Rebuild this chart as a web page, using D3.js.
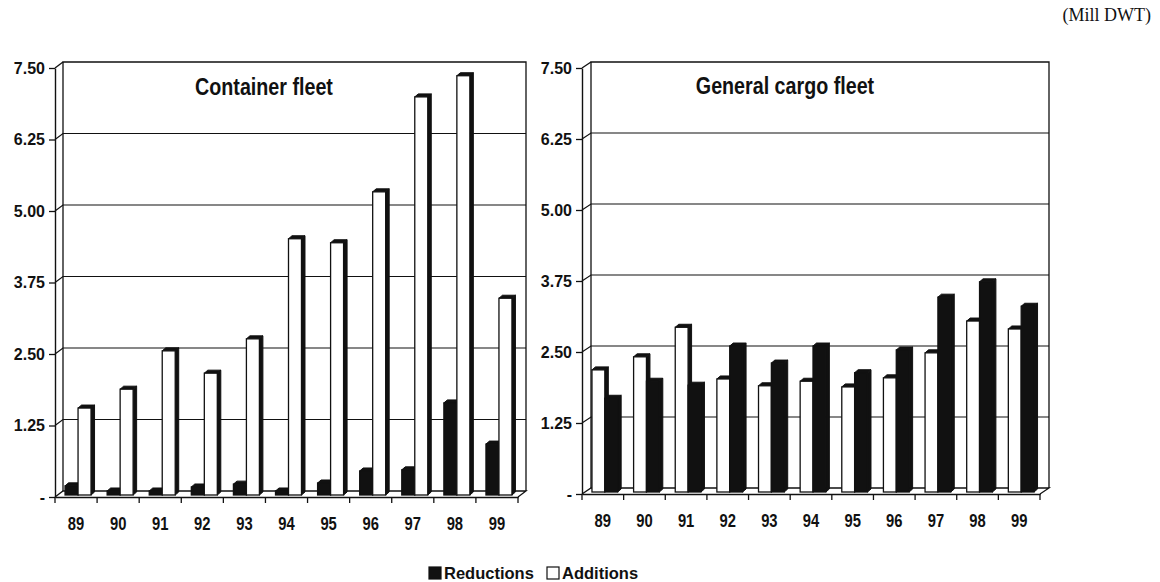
<!DOCTYPE html>
<html>
<head>
<meta charset="utf-8">
<script src="https://cdn.jsdelivr.net/npm/d3@7"></script>
<style>
  html, body { margin: 0; padding: 0; background: #fff; }
  svg { display: block; }
  .narrow { font-family: "Liberation Sans", Arial, sans-serif; font-weight: bold; }
  .wide { font-family: "Liberation Sans", Arial, sans-serif; font-weight: bold; }
</style>
</head>
<body>
<script>
// Fleet additions and reductions, million DWT, 1989-1999
const years = ["89", "90", "91", "92", "93", "94", "95", "96", "97", "98", "99"];
const containerReductions = [0.16, 0.07, 0.07, 0.14, 0.19, 0.07, 0.21, 0.42, 0.44, 1.61, 0.89];
const containerAdditions  = [1.52, 1.85, 2.52, 2.13, 2.73, 4.48, 4.41, 5.30, 6.96, 7.33, 3.44];
const generalAdditions    = [2.15, 2.38, 2.90, 1.99, 1.87, 1.95, 1.85, 2.01, 2.45, 3.01, 2.87];
const generalReductions   = [1.65, 1.95, 1.88, 2.57, 2.27, 2.57, 2.10, 2.50, 3.43, 3.70, 3.27];
const yTicks = [0, 1.25, 2.5, 3.75, 5, 6.25, 7.5];
const yTickLabels = ["-", "1.25", "2.50", "3.75", "5.00", "6.25", "7.50"];
const legendNames = ["Reductions", "Additions"];

const W = 1160, H = 582;
const INK = "#111";
const CONDENSE = 0.82;   // horizontal squeeze for the condensed face

const svg = d3.select("body").append("svg")
  .attr("width", W).attr("height", H)
  .attr("viewBox", `0 0 ${W} ${H}`);

// Squeeze a text horizontally to imitate a narrow typeface
function condense(sel) {
  sel.each(function () {
    const len = this.getComputedTextLength();
    d3.select(this).attr("textLength", len * CONDENSE).attr("lengthAdjust", "spacingAndGlyphs");
  });
}

const panels = [
  {
    title: "Container fleet", titleX: 264, titleY: 95,
    x0: 55, x1: 518, y0: 497, yTop: 68, dx: 8, dy: -6,
    series: [
      { name: "Reductions", values: containerReductions, fill: INK },
      { name: "Additions", values: containerAdditions, fill: "#fff" }
    ]
  },
  {
    title: "General cargo fleet", titleX: 785, titleY: 94,
    x0: 582, x1: 1040, y0: 494, yTop: 68, dx: 9, dy: -6,
    series: [
      { name: "Additions", values: generalAdditions, fill: "#fff" },
      { name: "Reductions", values: generalReductions, fill: INK }
    ]
  }
];

function drawPanel(p) {
  const g = svg.append("g");
  const y = d3.scaleLinear().domain([0, 7.5]).range([p.y0, p.yTop]);
  const x = d3.scaleBand().domain(years).range([p.x0, p.x1]).padding(0);
  const inner = d3.scaleBand().domain(p.series.map(s => s.name))
    .range([0, x.bandwidth()]).paddingInner(0).paddingOuter(0.62);

  const bx0 = p.x0 + p.dx, bx1 = p.x1 + p.dx;
  const line = (pts) => "M" + pts.map(q => q.join(",")).join("L");
  const frame = g.append("g").attr("fill", "none").attr("stroke", INK).attr("stroke-width", 1.3);

  // Back wall outline, side wall edge and floor
  frame.append("path").attr("d", line([[bx0, y(0) + p.dy], [bx0, y(7.5) + p.dy], [bx1, y(7.5) + p.dy], [bx1, y(0) + p.dy]]));
  frame.append("path").attr("d", line([[p.x0, y(7.5)], [bx0, y(7.5) + p.dy]]));
  frame.append("path").attr("d", line([[p.x0, y(0)], [bx0, y(0) + p.dy], [bx1, y(0) + p.dy], [p.x1, y(0)]]));

  // Gridlines across the side wall and back wall
  yTicks.filter(v => v > 0 && v < 7.5).forEach(v => {
    frame.append("path").attr("stroke-width", 1.2)
      .attr("d", line([[p.x0, y(v)], [bx0, y(v) + p.dy], [bx1, y(v) + p.dy]]));
  });

  // Value axis
  const yAxis = d3.axisLeft(y).tickValues(yTicks)
    .tickFormat((d, i) => yTickLabels[i]).tickSize(6).tickSizeOuter(0).tickPadding(4);
  const ya = g.append("g").attr("transform", `translate(${p.x0},0)`).call(yAxis);
  ya.select(".domain").attr("stroke", INK).attr("stroke-width", 1.4);
  ya.selectAll(".tick line").attr("stroke", INK).attr("stroke-width", 1.3);
  ya.selectAll(".tick text").attr("class", "wide").attr("font-size", 16).attr("fill", INK);

  // Category axis: ticks at band boundaries, labels centred in bands
  const xAxis = d3.axisBottom(x).tickSize(0).tickPadding(20);
  const xa = g.append("g").attr("transform", `translate(0,${y(0)})`).call(xAxis);
  xa.select(".domain").attr("stroke", INK).attr("stroke-width", 1.4);
  xa.selectAll(".tick text").attr("class", "narrow").attr("font-size", 18).attr("fill", INK).call(condense);
  xa.selectAll(".edge").data(years.map(d => x(d)).concat([p.x1])).enter()
    .append("line").attr("class", "edge")
    .attr("x1", d => d).attr("x2", d => d).attr("y1", 0).attr("y2", 6)
    .attr("stroke", INK).attr("stroke-width", 1.3);

  // 3-D columns
  const off = { dx: 2, dy: -2 };
  const depth = { dx: 3.5, dy: -3 };
  const w = inner.bandwidth();
  const bars = g.append("g");
  years.forEach((yr, i) => {
    p.series.forEach(s => {
      const v = s.values[i];
      const left = x(yr) + inner(s.name) + off.dx;
      const right = left + w;
      const top = y(v) + off.dy;
      const bottom = y(0) + off.dy;
      const dark = s.fill === INK;
      bars.append("path")
        .attr("d", line([[right, top], [right + depth.dx, top + depth.dy], [right + depth.dx, bottom + depth.dy], [right, bottom]]) + "Z")
        .attr("fill", INK).attr("stroke", INK).attr("stroke-width", 1);
      bars.append("path")
        .attr("d", line([[left, top], [left + depth.dx, top + depth.dy], [right + depth.dx, top + depth.dy], [right, top]]) + "Z")
        .attr("fill", INK).attr("stroke", INK).attr("stroke-width", 1);
      bars.append("rect")
        .attr("x", left).attr("y", top).attr("width", w).attr("height", bottom - top)
        .attr("fill", dark ? INK : "#fff").attr("stroke", INK).attr("stroke-width", 1.3);
    });
  });

  // Panel title
  g.append("text").attr("class", "narrow")
    .attr("x", p.titleX).attr("y", p.titleY).attr("text-anchor", "middle")
    .attr("font-size", 24).attr("fill", INK).text(p.title).call(condense);
}

panels.forEach(drawPanel);

// Unit note
svg.append("text")
  .attr("x", 1151).attr("y", 21).attr("text-anchor", "end")
  .attr("font-family", "'Liberation Serif', 'Times New Roman', serif")
  .attr("font-size", 18).attr("fill", INK).text("(Mill DWT)");

// Legend
const legend = svg.append("g").attr("class", "wide").attr("font-size", 16.5);
const legendItems = [
  { name: legendNames[0], fill: INK, x: 429 },
  { name: legendNames[1], fill: "#fff", x: 547 }
];
legendItems.forEach(it => {
  legend.append("rect").attr("x", it.x).attr("y", 567).attr("width", 12).attr("height", 12)
    .attr("fill", it.fill).attr("stroke", INK).attr("stroke-width", 1.2);
  legend.append("text").attr("x", it.x + 15).attr("y", 579).attr("fill", INK).text(it.name);
});
</script>
</body>
</html>
